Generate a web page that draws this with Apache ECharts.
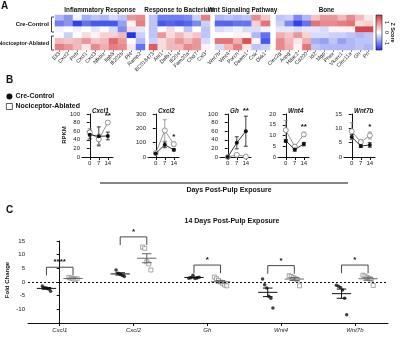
<!DOCTYPE html>
<html><head><meta charset="utf-8">
<script src="https://cdn.jsdelivr.net/npm/echarts@6/dist/echarts.min.js"></script>
<style>html,body{margin:0;padding:0;background:#fff}#c{width:400px;height:337px}</style>
</head><body><div id="c"></div>
<script>
const FONT = 'Liberation Sans, Arial, sans-serif';

// ---------- Panel A: heatmap ----------
const groupNames = ['Inflammatory Response', 'Response to Bacterium', 'Wnt Signaling Pathway', 'Bone'];
const rowGroups = ['Cre-Control', 'Nociceptor-Ablated'];
const genesInflam = ['Ell3', 'Cxcl2', 'Ptrb', 'Cxcl1', 'Cxcl3', 'Nfkbiz', 'Itgb8', 'Ifi202b', 'Pf4', 'Ramp2'];
const genesBact = ['BC018473', 'Abl1', 'Defb1', 'Ifi204', 'Fam20a', 'Chd7', 'Cxl3'];
const genesWnt = ['Wnt7b', 'Wnt4', 'Porcn', 'Daam1', 'Csk', 'Dkk1'];
const genesBone = ['Clec2g', 'Aspg', 'Hdac2', 'Cd200', 'Id2', 'Mgp', 'Phex', 'Vkorc1', 'Clec11a', 'Gh', 'Prl'];
const zInflam = [
  [-0.6, -0.9, -0.1, -0.7, -0.5, -0.6, -0.3, -0.5, 0.9, 1.0],
  [-1.1, -0.9, -1.6, -1.2, -1.4, -1.4, -1.4, -0.8, 0.1, 1.1],
  [-0.1, 0.0, -0.1, 0.0, -0.2, 0.0, -0.3, -1.0, 0.3, -0.2],
  [0.0, -0.4, 0.0, 0.3, 0.1, 0.4, 0.4, 0.6, -1.7, -0.4],
  [0.6, 0.5, 0.6, 0.9, 0.5, 0.6, 1.3, 0.9, 0.0, -0.6],
  [1.1, 0.9, 0.6, 0.2, 1.0, 0.7, 1.1, 1.0, 0.2, -1.2]
];
const zBact = [
  [-0.5, -1.1, -1.1, -1.1, -1.0, -0.4, 1.1],
  [-0.5, -1.4, -1.3, -1.4, -1.3, -1.0, -0.4],
  [-0.5, 0.0, 0.3, 0.0, -0.5, 0.0, -0.5],
  [-0.5, 0.9, 0.3, 0.6, 0.3, 0.5, -0.5],
  [-0.4, 0.3, 0.6, 0.9, 0.6, 0.9, -0.3],
  [1.4, 0.3, 0.6, 0.6, 1.0, 0.9, 0.1]
];
const zWnt = [
  [-0.6, -0.5, -0.6, -0.5, 1.0, 0.5],
  [-1.3, -1.3, -1.2, -1.2, 0.4, 1.2],
  [-0.3, -0.2, -0.1, -0.3, -0.3, -0.1],
  [0.0, 0.0, 0.1, 0.1, -0.6, -1.2],
  [1.2, 1.2, 0.7, 1.5, 0.1, -1.4],
  [-0.3, 0.6, 1.1, 0.2, -0.5, -0.4]
];
const zBone = [
  [-0.5, -0.4, -1.0, -0.6, 0.5, 0.9, 0.9, 0.6, 1.0, 0.6, 0.2],
  [-0.4, -1.0, -1.6, -1.2, 1.2, 1.0, 1.0, 1.1, 1.2, 0.3, 0.4],
  [-0.2, -0.2, -0.3, -0.2, -0.2, -0.3, 0.1, 0.1, 0.1, 1.6, 1.6],
  [0.7, 0.5, 0.9, 0.4, -0.3, -0.3, -0.4, -0.4, -0.5, -0.6, -0.5],
  [1.0, 0.6, 0.2, 0.7, -0.7, -0.8, -0.5, -0.8, -0.6, -0.5, -0.5],
  [1.0, 0.7, 0.1, 1.2, -0.5, -0.6, -0.6, -0.6, -0.6, -0.5, -0.6]
];
const zTicks = [1, 0, -1];

// ---------- Panel B: time course ----------
const daysB = [0, 7, 14];
const genesB = ['Cxcl1', 'Cxcl2', 'Gh', 'Wnt4', 'Wnt7b'];
const creB = [[52, 48, 49], [25, 85, 50], [0, 33, 60], [7.5, 3.5, 6], [7, 3.8, 4.2]];
const creErrB = [[10, 22, 9], [5, 20, 8], [1, 14, 35], [0.6, 0.8, 0.8], [0.8, 0.5, 0.8]];
const ablB = [[57, 41, 80], [28, 185, 90], [0, 5, 1], [12.5, 4.8, 10.5], [9, 5.2, 7.5]];
const ablErrB = [[9, 12, 4], [6, 75, 14], [1, 3, 1], [4.5, 0.8, 1], [3, 0.8, 1.2]];
const sigB = ['**', '*', '**', '**', '*'];
const yMaxB = [100, 300, 100, 20, 15];
const yStepB = [20, 100, 20, 5, 5];

// ---------- Panel C: fold change at 14 days ----------
const genesC = ['Cxcl1', 'Cxcl2', 'Gh', 'Wnt4', 'Wnt7b'];
const fcCre = [
  [-1.5, -2.0, -2.2, -2.6, -3.4],
  [4.4, 3.2, 2.8, 2.4, 2.0],
  [1.4, 1.6, 2.5, 1.3, 1.5, 1.7],
  [1.1, -1.0, -2.2, -5.2, -5.9, -9.5],
  [-1.2, -1.6, -2.0, -2.9, -5.9, -12.0]
];
const fcAbl = [
  [1.7, 1.4, 1.2, 1.0, 1.2],
  [12.8, 12.3, 7.4, 6.6, 4.4],
  [1.8, 1.2, 0.6, 0.0, -0.5, -1.1, -1.4],
  [2.3, 2.0, 1.6, 1.2, 0.8, -1.4],
  [2.5, 2.2, 1.7, 1.2, 0.8, -1.3]
];
const sigC = ['****', '*', '*', '*', '*'];
const yTicksC = [-15, 15, 5];

// ---------- layout ----------
const hmTop = 15, hmH = 35;
const hmGrids = [{left: 55, width: 90}, {left: 149, width: 61}, {left: 215, width: 55}, {left: 276, width: 97}];
const hmGenes = [genesInflam, genesBact, genesWnt, genesBone];
const hmZ = [zInflam, zBact, zWnt, zBone];
const bLefts = [82, 148, 220, 278, 344], bW = 31, bTop = 114, bH = 43;
const cGrid = {left: 28, width: 360, top: 241, height: 82};
const RED = '#d6343a', BLUE = '#1b31e6';
const GRAY = '#8a8a8a';

const grids = [], xAxes = [], yAxes = [], series = [];
const txt = {fontFamily: FONT, color: '#222'};

hmGrids.forEach((g, i) => {
  grids.push({left: g.left, width: g.width, top: hmTop, height: hmH});
  xAxes.push({type: 'category', gridIndex: i, data: hmGenes[i],
    axisLine: {show: false}, axisTick: {show: true, alignWithLabel: true, length: 2, lineStyle: {color: '#333', width: 0.6}},
    axisLabel: Object.assign({rotate: 45, fontSize: 5.3, interval: 0, margin: 3}, txt)});
  yAxes.push({type: 'category', gridIndex: i, data: ['1', '2', '3', '4', '5', '6'], inverse: true, show: false});
  const data = [];
  hmZ[i].forEach((row, r) => row.forEach((v, c) => data.push([c, r, v])));
  series.push({type: 'heatmap', xAxisIndex: i, yAxisIndex: i, data: data, itemStyle: {borderWidth: 0}});
});

function errRender(color) {
  return function (params, api) {
    const x = api.value(0), m = api.value(1), e = api.value(2);
    const t = api.coord([x, m + e]), b = api.coord([x, Math.max(m - e, 0)]);
    const st = {stroke: color, lineWidth: 0.8};
    return {type: 'group', children: [
      {type: 'line', shape: {x1: t[0], y1: t[1], x2: b[0], y2: b[1]}, style: st},
      {type: 'line', shape: {x1: t[0] - 2, y1: t[1], x2: t[0] + 2, y2: t[1]}, style: st},
      {type: 'line', shape: {x1: b[0] - 2, y1: b[1], x2: b[0] + 2, y2: b[1]}, style: st}
    ]};
  };
}

genesB.forEach((gname, k) => {
  const gi = 4 + k;
  grids.push({left: bLefts[k], width: bW, top: bTop, height: bH});
  xAxes.push({type: 'value', gridIndex: gi, min: -6, max: 18,
    axisLine: {show: true, onZero: false, lineStyle: {color: '#111', width: 1}},
    axisTick: {show: true, customValues: daysB, length: 3, lineStyle: {color: '#111'}},
    axisLabel: Object.assign({customValues: daysB, fontSize: 6, margin: 3}, txt),
    splitLine: {show: false}});
  yAxes.push({type: 'value', gridIndex: gi, min: 0, max: yMaxB[k], interval: yStepB[k],
    axisLine: {show: true, lineStyle: {color: '#111', width: 1}},
    axisTick: {show: true, length: 3, lineStyle: {color: '#111'}},
    axisLabel: Object.assign({fontSize: 6, margin: 2}, txt),
    splitLine: {show: false}});
  const ax = {xAxisIndex: gi, yAxisIndex: gi};
  series.push(Object.assign({type: 'custom', z: 1, renderItem: errRender('#111'),
    data: daysB.map((d, j) => [d, creB[k][j], creErrB[k][j]])}, ax));
  series.push(Object.assign({type: 'custom', z: 1, renderItem: errRender(GRAY),
    data: daysB.map((d, j) => [d, ablB[k][j], ablErrB[k][j]])}, ax));
  series.push(Object.assign({type: 'line', name: 'Cre-Control', z: 3, symbol: 'circle', symbolSize: 4,
    lineStyle: {color: '#222', width: 0.9}, itemStyle: {color: '#111'},
    data: daysB.map((d, j) => [d, creB[k][j]])}, ax));
  series.push(Object.assign({type: 'line', name: 'Nociceptor-Ablated', z: 2, symbol: 'circle', symbolSize: 5,
    lineStyle: {color: GRAY, width: 0.9}, itemStyle: {color: '#fff', borderColor: GRAY, borderWidth: 0.9},
    data: daysB.map((d, j) => [d, ablB[k][j]])}, ax));
  const last = daysB.length - 1;
  const top = Math.max(creB[k][last] + creErrB[k][last], ablB[k][last] + ablErrB[k][last]);
  series.push(Object.assign({type: 'custom', z: 4, clip: false, data: [[daysB[last], top]],
    renderItem: (p, api) => {
      const c = api.coord([api.value(0), api.value(1)]);
      return {type: 'text', style: {text: sigB[k], x: c[0], y: c[1] - 1, textAlign: 'center', textVerticalAlign: 'bottom',
        font: 'bold 8px ' + FONT, fill: '#111'}};
    }}, ax));
});

// Panel C
const gC = 9;
grids.push(cGrid);
xAxes.push({type: 'value', gridIndex: gC, min: -0.43, max: 4.45,
  axisLine: {show: true, onZero: false, lineStyle: {color: '#111', width: 1}},
  axisTick: {show: true, customValues: [0, 1, 2, 3, 4], length: 3, lineStyle: {color: '#111'}},
  axisLabel: Object.assign({customValues: [0, 1, 2, 3, 4], fontSize: 6, fontStyle: 'italic', margin: 4,
    formatter: v => genesC[Math.round(v)]}, txt),
  splitLine: {show: false}});
yAxes.push({type: 'value', gridIndex: gC, min: yTicksC[0], max: yTicksC[1], interval: yTicksC[2],
  axisLine: {show: true, lineStyle: {color: '#111', width: 1}},
  axisTick: {show: true, length: 3, lineStyle: {color: '#111'}},
  axisLabel: Object.assign({fontSize: 6, margin: 3, showMinLabel: false}, txt),
  splitLine: {show: false}});

const OFF = 0.18;
function jitterPts(arr, i, side) {
  const n = arr.length;
  return arr.map((v, j) => [i + side * OFF + (j - (n - 1) / 2) * 0.028, v]);
}
function meanSem(a) {
  const n = a.length, m = a.reduce((s, v) => s + v, 0) / n;
  const sd = Math.sqrt(a.reduce((s, v) => s + (v - m) * (v - m), 0) / (n - 1));
  return [m, sd / Math.sqrt(n)];
}
const axC = {xAxisIndex: gC, yAxisIndex: gC};
series.push(Object.assign({type: 'scatter', name: 'C-cre', z: 3, symbol: 'circle', symbolSize: 3.5,
  itemStyle: {color: '#111'},
  data: fcCre.flatMap((a, i) => jitterPts(a, i, -1)),
  markLine: {silent: true, symbol: 'none', label: {show: false},
    lineStyle: {type: [2, 2], color: '#111', width: 1}, data: [{yAxis: 0}]}}, axC));
series.push(Object.assign({type: 'scatter', name: 'C-abl', z: 3, symbol: 'rect', symbolSize: 4,
  itemStyle: {color: '#fff', borderColor: '#777', borderWidth: 0.8},
  data: fcAbl.flatMap((a, i) => jitterPts(a, i, 1))}, axC));
function meanRender(color) {
  return (p, api) => {
    const xc = api.value(0), m = api.value(1), s = api.value(2);
    const pm = api.coord([xc, m]), pt = api.coord([xc, m + s]), pb = api.coord([xc, m - s]);
    const hw = api.size([0.13, 0])[0], cw = api.size([0.065, 0])[0];
    const st = {stroke: color, lineWidth: 1};
    return {type: 'group', children: [
      {type: 'line', shape: {x1: pm[0] - hw, y1: pm[1], x2: pm[0] + hw, y2: pm[1]}, style: st},
      {type: 'line', shape: {x1: pt[0], y1: pt[1], x2: pb[0], y2: pb[1]}, style: st},
      {type: 'line', shape: {x1: pt[0] - cw, y1: pt[1], x2: pt[0] + cw, y2: pt[1]}, style: st},
      {type: 'line', shape: {x1: pb[0] - cw, y1: pb[1], x2: pb[0] + cw, y2: pb[1]}, style: st}
    ]};
  };
}
series.push(Object.assign({type: 'custom', z: 4, renderItem: meanRender('#111'),
  data: fcCre.map((a, i) => [i - OFF].concat(meanSem(a)))}, axC));
series.push(Object.assign({type: 'custom', z: 4, renderItem: meanRender('#666'),
  data: fcAbl.map((a, i) => [i + OFF].concat(meanSem(a)))}, axC));
series.push(Object.assign({type: 'custom', z: 4, clip: false,
  data: genesC.map((g, i) => [i, Math.max(...fcCre[i], ...fcAbl[i]) + 3.7]),
  renderItem: (p, api) => {
    const i = api.value(0), yb = api.value(1);
    const a = api.coord([i - OFF, yb - 3]), b = api.coord([i - OFF, yb]);
    const c = api.coord([i + OFF, yb]), d = api.coord([i + OFF, yb - 3]);
    return {type: 'group', children: [
      {type: 'polyline', shape: {points: [a, b, c, d]}, style: {stroke: '#333', lineWidth: 0.9, fill: null}},
      {type: 'text', style: {text: sigC[p.dataIndex], x: (b[0] + c[0]) / 2, y: b[1] - 1,
        textAlign: 'center', textVerticalAlign: 'bottom', font: 'bold 8px ' + FONT, fill: '#111'}}
    ]};
  }}, axC));

// ---------- free text / decorations ----------
function T(text, x, y, opt) {
  opt = opt || {};
  return {type: 'text', x: x, y: y, rotation: opt.rot || 0, silent: true,
    style: {text: text, x: 0, y: 0, textAlign: opt.align || 'center', textVerticalAlign: 'middle',
      font: (opt.style || '') + ' ' + (opt.weight || 'bold') + ' ' + (opt.size || 7) + 'px ' + FONT, fill: '#111'}};
}
function L(x1, y1, x2, y2, w) {
  return {type: 'line', silent: true, shape: {x1, y1, x2, y2}, style: {stroke: '#111', lineWidth: w || 0.8}};
}
const gfx = [];
gfx.push(T('A', 1, 6, {align: 'left', size: 10}));
gfx.push(T('B', 6, 80, {align: 'left', size: 10}));
gfx.push(T('C', 6, 210, {align: 'left', size: 10}));
hmGrids.forEach((g, i) => gfx.push(T(groupNames[i], g.left + g.width / 2 + (i === 3 ? 2 : 0), 10.5, {size: 6.3})));
gfx.push(T(rowGroups[0], 49, 24.5, {align: 'right', size: 6.0}));
gfx.push(T(rowGroups[1], 49, 43, {align: 'right', size: 5.5}));
// row brackets
[[17, 32], [36, 50]].forEach(([a, b]) => {
  gfx.push(L(51.5, a, 51.5, b)); gfx.push(L(51.5, a, 54, a)); gfx.push(L(51.5, b, 54, b));
});
// colour bar
gfx.push({type: 'rect', silent: true, shape: {x: 376, y: hmTop, width: 6, height: hmH},
  style: {fill: new echarts.graphic.LinearGradient(0, 0, 0, 1, [
    {offset: 0, color: RED}, {offset: 0.5, color: '#ffffff'}, {offset: 1, color: BLUE}]), stroke: '#111', lineWidth: 0.6}});
zTicks.forEach(v => gfx.push(T(String(v), 387, hmTop + hmH * (1.75 - v) / 3.5, {rot: -Math.PI / 2, size: 5.5, weight: 'normal'})));
gfx.push(T('Z Score', 393, hmTop + hmH / 2, {rot: -Math.PI / 2, size: 5.5}));
// panel B titles
genesB.forEach((g, k) => gfx.push(T(g, bLefts[k] + 10, 111, {style: 'italic', size: 6.3, align: 'left'})));
gfx.push(T('RPKM', 64, 135, {rot: Math.PI / 2, size: 6}));
gfx.push(L(100, 183, 348, 183, 1));
gfx.push(T('Days Post-Pulp Exposure', 229, 190, {size: 7}));
// panel C titles
gfx.push(T('14 Days Post-Pulp Exposure', 232, 221, {size: 7}));
gfx.push(T('Fold Change', 7, 280, {rot: Math.PI / 2, size: 6}));

const option = {
  animation: false,
  backgroundColor: '#fff',
  textStyle: {fontFamily: FONT},
  grid: grids, xAxis: xAxes, yAxis: yAxes, series: series,
  visualMap: {show: false, type: 'continuous', min: -1.75, max: 1.75, seriesIndex: [0, 1, 2, 3],
    inRange: {color: [BLUE, '#ffffff', RED]}},
  legend: {orient: 'vertical', left: 1, top: 88, itemWidth: 6, itemHeight: 6, itemGap: 3,
    textStyle: {fontSize: 7, fontWeight: 'bold', fontFamily: FONT, color: '#111', padding: [0, 0, 0, -2]},
    data: [
      {name: 'Cre-Control', icon: 'circle', itemStyle: {color: '#111', borderWidth: 0}},
      {name: 'Nociceptor-Ablated', icon: 'rect', itemStyle: {color: '#fff', borderColor: '#333', borderWidth: 0.8}}
    ]},
  graphic: gfx
};
echarts.init(document.getElementById('c')).setOption(option);
</script></body></html>
